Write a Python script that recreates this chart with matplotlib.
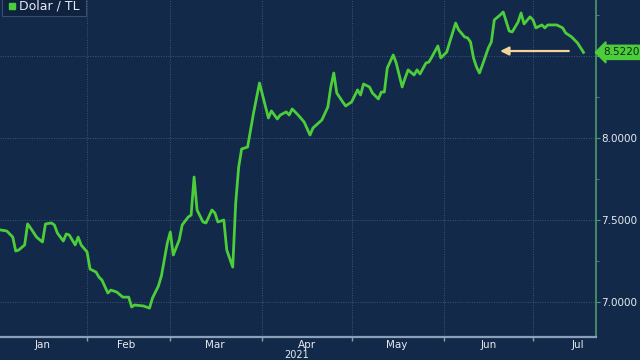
import numpy as np
import pandas as pd
import matplotlib
matplotlib.use("Agg")
import matplotlib.pyplot as plt
import matplotlib.dates as mdates
from matplotlib.patches import Rectangle

# ---- data: USD/TRY 2021 -----------------------------------------------------
START = pd.Timestamp("2021-01-01")
day_offsets = [
    2, 4, 6, 7, 8, 10, 11, 12, 14, 16, 17, 19, 20, 21, 23, 24, 25, 27, 28, 29,
    31, 32, 34, 35, 36, 38, 39, 41, 43, 45, 46, 47, 50, 52, 53, 55, 56, 58, 59, 60,
    62, 63, 65, 66, 67, 68, 70, 71, 73, 74, 75, 77, 78, 80, 81, 82, 83, 84, 85, 87,
    89, 92, 93, 95, 96, 98, 99, 100, 102, 104, 106, 107, 110, 112, 113, 114, 115, 117, 118, 120,
    122, 123, 124, 126, 127, 129, 130, 131, 132, 134, 135, 137, 138, 139, 141, 142, 143, 145, 146, 147,
    149, 150, 152, 153, 155, 156, 158, 159, 160, 161, 162, 163, 164, 166, 167, 168, 170, 171, 173, 174,
    176, 177, 178, 180, 181, 182, 184, 185, 186, 189, 191, 192, 194, 196, 198,
]
usdtry = [
    7.439, 7.433, 7.396, 7.311, 7.317, 7.348, 7.476, 7.451, 7.396, 7.366,
    7.476, 7.482, 7.470, 7.421, 7.372, 7.415, 7.409, 7.348, 7.396, 7.348,
    7.305, 7.201, 7.183, 7.152, 7.134, 7.055, 7.073, 7.061, 7.030, 7.030,
    6.970, 6.982, 6.976, 6.963, 7.024, 7.098, 7.159, 7.360, 7.427, 7.287,
    7.378, 7.470, 7.518, 7.530, 7.762, 7.561, 7.488, 7.482, 7.561, 7.543,
    7.488, 7.500, 7.317, 7.213, 7.604, 7.823, 7.933, 7.939, 7.945, 8.152,
    8.335, 8.122, 8.165, 8.116, 8.140, 8.159, 8.140, 8.177, 8.140, 8.098,
    8.018, 8.061, 8.110, 8.189, 8.311, 8.396, 8.274, 8.220, 8.195, 8.220,
    8.293, 8.262, 8.329, 8.311, 8.274, 8.238, 8.280, 8.280, 8.427, 8.506,
    8.457, 8.311, 8.366, 8.415, 8.384, 8.415, 8.390, 8.457, 8.463, 8.494,
    8.561, 8.488, 8.524, 8.585, 8.701, 8.659, 8.616, 8.610, 8.585, 8.488,
    8.433, 8.396, 8.445, 8.549, 8.585, 8.720, 8.750, 8.768, 8.652, 8.646,
    8.707, 8.762, 8.695, 8.738, 8.720, 8.671, 8.689, 8.671, 8.689, 8.689,
    8.671, 8.640, 8.616, 8.579, 8.522,
]
last_value = 8.5220
series_name = "Dolar / TL"
month_labels = ["Jan", "Feb", "Mar", "Apr", "May", "Jun", "Jul"]
y_ticks = [7.0, 7.5, 8.0, 8.5]
y_minor = [7.25, 7.75, 8.25, 8.75]
year_label = "2021"

dates = START + pd.to_timedelta(day_offsets, unit="D")

# ---- style ------------------------------------------------------------------
BG = "#13294a"
LINE = "#4ccd3a"
GRIDC = "#3d5878"
TXT = "#e6ebf0"
RSPINE = "#4a9a6a"
ARROW = "#f3d59b"

fig = plt.figure(figsize=(6.4, 3.6), dpi=100)
fig.patch.set_facecolor(BG)
ax = fig.add_axes([0.0, 23 / 360, 596 / 640, 337 / 360])
ax.set_facecolor(BG)

ax.plot(dates, usdtry, color=LINE, lw=2.0, solid_joinstyle="round", zorder=4)

ax.set_xlim(pd.Timestamp("2021-01-02 17:00"), pd.Timestamp("2021-07-22 05:00"))
ax.set_ylim(6.787, 8.841)

# x axis: month boundaries as ticks/grid, month names between them
ax.xaxis.set_major_locator(mdates.MonthLocator())
ax.xaxis.set_major_formatter(plt.NullFormatter())
label_pos = pd.to_datetime(["2021-01-17", "2021-02-14", "2021-03-16", "2021-04-16",
                            "2021-05-16", "2021-06-16", "2021-07-16"])
ax.set_xticks(label_pos, minor=True)
ax.set_xticklabels(month_labels, minor=True)
ax.tick_params(axis="x", which="major", length=3, color="#8aa0b8", width=1)
ax.tick_params(axis="x", which="minor", length=0, labelsize=7.5, colors=TXT, pad=2.5)

# y axis on the right (8.5 label sits under the last-value tag)
ax.yaxis.tick_right()
ax.set_yticks(y_ticks)
ax.set_yticks(y_minor, minor=True)
ax.yaxis.set_major_formatter(
    plt.FuncFormatter(lambda v, p: "" if abs(v - 8.5) < 1e-9 else f"{v:.4f}"))
ax.tick_params(axis="y", which="major", length=3, color=RSPINE, labelsize=7.5,
               labelcolor=TXT, pad=1)
ax.tick_params(axis="y", which="minor", length=2, color="#6d7f95")

ax.grid(True, which="major", color=GRIDC, ls=(0, (1, 1.5)), lw=0.7)
for sp in ("top", "left"):
    ax.spines[sp].set_visible(False)
ax.spines["bottom"].set_color("#8aa0b8")
ax.spines["bottom"].set_linewidth(1.6)
ax.spines["right"].set_color(RSPINE)
ax.spines["right"].set_linewidth(1.2)

# year label under the axis
fig.text(297 / 640, 0.5 / 360, year_label, ha="center", va="bottom",
         fontsize=7, color=TXT)

# arrow pointing back along the recent level
ax.annotate("", xy=(pd.Timestamp("2021-06-19"), 8.53),
            xytext=(pd.Timestamp("2021-07-14"), 8.53),
            arrowprops=dict(arrowstyle="-|>,head_length=0.5,head_width=0.25",
                            color=ARROW, lw=1.6), zorder=5)

# last-value tag
ax.annotate(f"{last_value:.4f}", xy=(1.0, last_value),
            xycoords=("axes fraction", "data"), xytext=(5, 0),
            textcoords="offset points", ha="left", va="center",
            fontsize=7.5, color="#10261a",
            bbox=dict(boxstyle="larrow,pad=0.2", fc=LINE, ec=LINE),
            annotation_clip=False)

# legend box (top-left, partly cut off)
fig.add_artist(Rectangle((2 / 640, 1 - 16 / 360), 84 / 640, 20 / 360,
                         transform=fig.transFigure, fc="#0f2240", ec="#34506f",
                         lw=0.8, zorder=6))
fig.add_artist(Rectangle((9 / 640, 1 - 9 / 360), 6 / 640, 6 / 360,
                         transform=fig.transFigure, fc=LINE, ec=LINE, zorder=7))
fig.text(19 / 640, 1 - 6 / 360, series_name, ha="left", va="center",
         fontsize=9, color=TXT, zorder=7)

fig.savefig("out.png", dpi=100, facecolor=BG)
